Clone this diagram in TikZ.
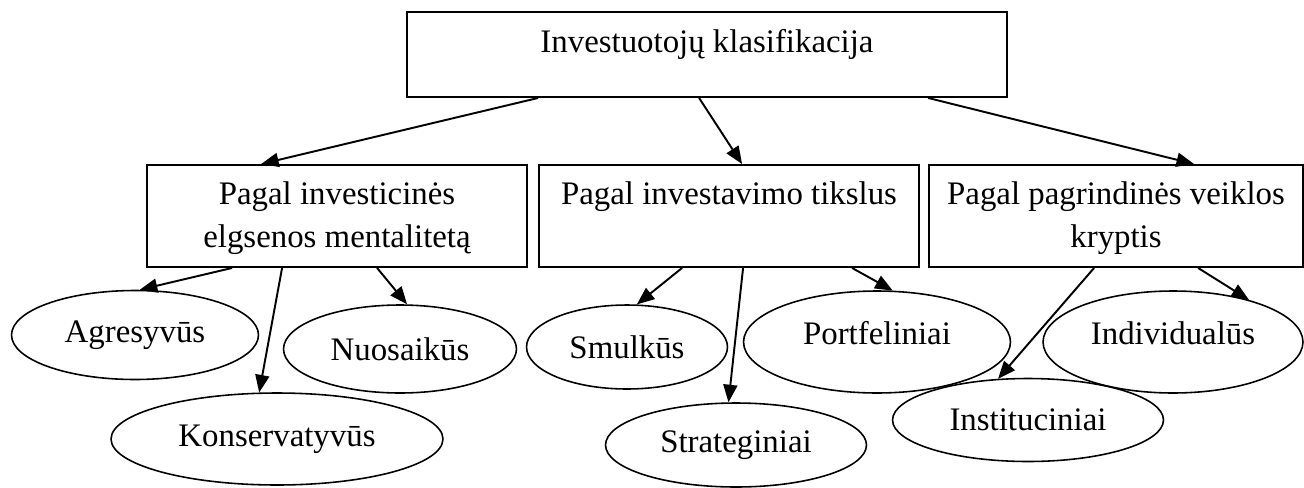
\documentclass[tikz,border=0pt]{standalone}
\usepackage{fontspec}
\setmainfont{Liberation Serif}
\usetikzlibrary{arrows.meta, calc, shapes.geometric}

\begin{document}
\begin{tikzpicture}[x=0.02cm, y=-0.02cm, >={Triangle[length=10pt,width=8pt]},
    box/.style={draw, line width=1.1pt, rectangle, inner sep=0pt},
    oval/.style={draw, line width=0.9pt, ellipse, inner sep=0pt, font=\fontsize{18.7}{22}\selectfont},
    lbl/.style={anchor=north, inner sep=0pt, align=center, font=\fontsize{18.7}{24.4}\selectfont},
    link/.style={->, line width=1.1pt}]
\useasboundingbox (0,0) rectangle (1304,487);
% boxes
\node[box, minimum width=12cm,   minimum height=1.7cm]  (top)   at (707,54.5) {};
\node[box, minimum width=7.6cm,  minimum height=2.04cm] (mind)  at (337,216) {};
\node[box, minimum width=7.6cm,  minimum height=2.04cm] (goal)  at (729,216) {};
\node[box, minimum width=7.48cm, minimum height=2.04cm] (field) at (1116,216) {};
\node[lbl] at ([yshift=-10pt]top.north)   {Investuotojų klasifikacija};
\node[lbl] at ([yshift=-10pt]mind.north)  {Pagal investicinės\\elgsenos mentalitetą};
\node[lbl] at ([yshift=-10pt]goal.north)  {Pagal investavimo tikslus};
\node[lbl] at ([yshift=-10pt]field.north) {Pagal pagrindinės veiklos\\kryptis};
% ovals
\node[oval, minimum width=4.94cm, minimum height=1.78cm] (agr) at (135,335) {Agresyvūs};
\node[oval, minimum width=4.66cm, minimum height=1.76cm] (nuo) at (400,349) {Nuosaikūs};
\node[oval, minimum width=6.64cm, minimum height=1.84cm] (kon) at (277,439) {Konservatyvūs};
\node[oval, minimum width=4.02cm, minimum height=1.68cm] (smu) at (627,347) {Smulkūs};
\node[oval, minimum width=5.34cm, minimum height=2.04cm, text depth=10pt] (por) at (877,342) {Portfeliniai};
\node[oval, minimum width=5.22cm, minimum height=1.68cm] (str) at (736,445) {Strateginiai};
\node[oval, minimum width=5.2cm,  minimum height=2.04cm, text depth=10pt] (ind) at (1173,342) {Individualūs};
\node[oval, minimum width=5.42cm, minimum height=1.66cm] (ins) at (1028,420) {Instituciniai};
% links
\draw[link] ($(top.south west)+(132,0)$) -- ($(mind.north west)+(115,0)$);
\draw[link] ($(top.south west)+(293,0)$) -- ($(goal.north west)+(204,0)$);
\draw[link] ($(top.south west)+(522,0)$) -- ($(field.north west)+(266,0)$);
\draw[link] ($(mind.south west)+(86,0)$)  -- (agr.84);
\draw[link] ($(mind.south west)+(136,0)$) -- (kon.111);
\draw[link] ($(mind.south west)+(231,0)$) -- (nuo.81);
\draw[link] ($(goal.south west)+(144,0)$) -- (smu.77);
\draw[link] ($(goal.south west)+(205,0)$) -- (str.100);
\draw[link] ($(goal.south west)+(314,0)$) -- (por.73);
\draw[link] ($(field.south west)+(166,0)$) -- (ins.126);
\draw[link] ($(field.south west)+(270,0)$) -- (ind.29);
\end{tikzpicture}
\end{document}
